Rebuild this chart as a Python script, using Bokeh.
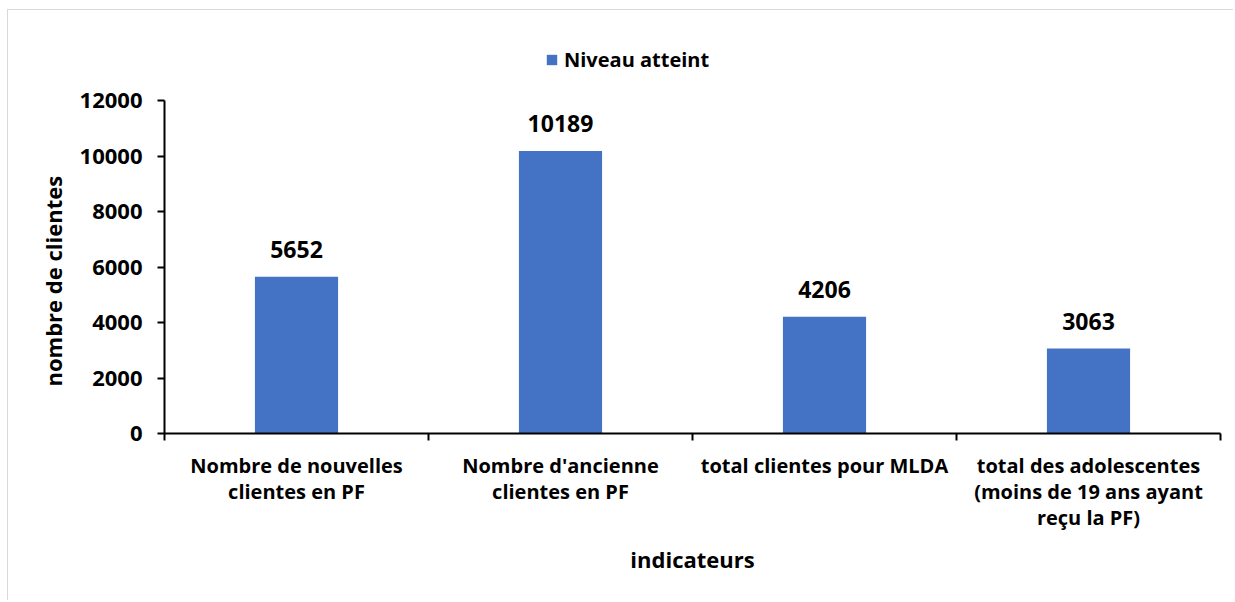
from bokeh.plotting import figure
from bokeh.models import ColumnDataSource, FixedTicker, LabelSet, Range1d, Legend, LegendItem, Title
from bokeh.core.properties import value
from bokeh.embed import file_html
from bokeh.resources import INLINE

categories = [
    "Nombre de nouvelles\nclientes en PF",
    "Nombre d'ancienne\nclientes en PF",
    "total clientes pour MLDA",
    "total des adolescentes\n(moins de 19 ans ayant\nreçu la PF)",
]
values = [5652, 10189, 4206, 3063]
y_ticks = [0, 2000, 4000, 6000, 8000, 10000, 12000]
y_max = 12000
series_name = "Niveau atteint"
y_title = "nombre de clientes"
x_title = "indicateurs"

FONT = "Open Sans"
BLUE = "#4472C4"

# layout (pixels): frame spans 30..432 vertically, axis drawn up to y_max at 100
frame_top, axis_top, frame_bottom = 30, 100, 432
y_end = y_max * (frame_bottom - frame_top) / (frame_bottom - axis_top)

n = len(categories)
centers = [i + 0.5 for i in range(n)]
src = ColumnDataSource(dict(x=centers, top=values, lbl=[str(v) for v in values]))

p = figure(width=1226, height=591, output_backend="svg", toolbar_location=None,
           x_range=Range1d(0, n), y_range=Range1d(0, y_end),
           min_border_left=156, min_border_right=14, min_border_top=20, min_border_bottom=168,
           styles={"border-top": "1px solid #D9D9D9", "border-left": "1px solid #D9D9D9",
                   "position": "relative", "left": "7px", "top": "9px"})
p.outline_line_color = None
p.xgrid.visible = False
p.ygrid.visible = False

r = p.vbar(x="x", top="top", width=0.315, source=src, fill_color=BLUE, line_color=None)

labels = LabelSet(x="x", y="top", text="lbl", source=src, text_align="center",
                  text_baseline="alphabetic", y_offset=19, text_font=value(FONT),
                  text_font_style="bold", text_font_size="23px", text_color="#000000")
p.add_layout(labels)

# x axis: minor ticks at category boundaries, labels at centers
p.xaxis.ticker = FixedTicker(ticks=centers, minor_ticks=list(range(n + 1)))
p.xaxis.major_label_overrides = {c: cat for c, cat in zip(centers, categories)}
p.xaxis.major_tick_line_color = None
p.xaxis.minor_tick_in = 0
p.xaxis.minor_tick_out = 7
p.xaxis.minor_tick_line_width = 2
p.xaxis.minor_tick_line_color = "#000000"
p.xaxis.axis_line_width = 2
p.xaxis.axis_line_color = "#000000"
p.xaxis.major_label_text_font = FONT
p.xaxis.major_label_text_font_style = "bold"
p.xaxis.major_label_text_font_size = "20px"
p.xaxis.major_label_text_line_height = 0.98
p.xaxis.major_label_text_color = "#000000"
p.xaxis.major_label_standoff = 11
p.xaxis.axis_label = x_title
p.xaxis.axis_label_text_font = FONT
p.xaxis.axis_label_text_font_style = "bold"
p.xaxis.axis_label_text_font_size = "22px"
p.xaxis.axis_label_text_color = "#000000"
p.xaxis.axis_label_standoff = 10

p.yaxis.ticker = FixedTicker(ticks=y_ticks, minor_ticks=[])
p.yaxis.bounds = (0, y_max)
p.yaxis.major_tick_in = 0
p.yaxis.major_tick_out = 7
p.yaxis.major_tick_line_width = 2
p.yaxis.major_tick_line_color = "#000000"
p.yaxis.axis_line_width = 2
p.yaxis.axis_line_color = "#000000"
p.yaxis.major_label_text_font = FONT
p.yaxis.major_label_text_font_style = "bold"
p.yaxis.major_label_text_font_size = "22px"
p.yaxis.major_label_text_color = "#000000"
p.yaxis.major_label_standoff = 15

ytitle = Title(text=y_title, align="left", offset=47, standoff=17,
               text_font=FONT, text_font_style="bold", text_font_size="22px",
               text_color="#000000")
p.add_layout(ytitle, "left")

legend = Legend(items=[LegendItem(label=series_name, renderers=[r])],
                location=(381, 360), orientation="horizontal",
                padding=0, margin=0, spacing=0, glyph_width=13, glyph_height=13,
                label_standoff=6, label_height=26,
                label_text_font=FONT, label_text_font_style="bold",
                label_text_font_size="20px", label_text_color="#000000",
                border_line_color=None, background_fill_alpha=0)
p.add_layout(legend, "center")

open("out.html", "w").write(file_html(p, INLINE))
